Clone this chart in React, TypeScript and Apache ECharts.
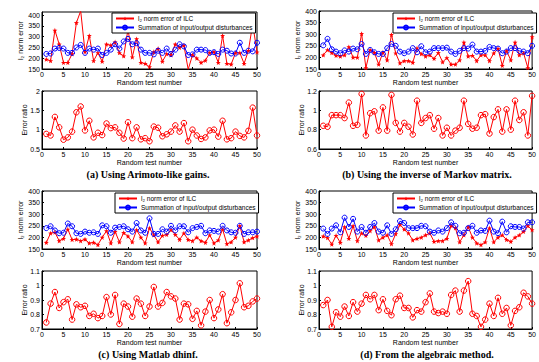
import React, { useEffect, useRef } from "react";
import * as echarts from "echarts";

// Random test numbers 1..50
const TEST_NUMBERS: number[] = Array.from({ length: 50 }, (_, i) => i + 1);
const X_TICKS = [0, 5, 10, 15, 20, 25, 30, 35, 40, 45, 50];

const L_RED = "l₂ norm error of ILC";
const L_BLUE = "Summation of input/output disturbances";
const Y_TOP_NAME = "l₂ norm error";
const Y_BOT_NAME = "Error ratio";
const X_NAME = "Random test number";

// (a) Using Arimoto-like gains
const RED_A = [195, 188, 330, 265, 180, 180, 220, 365, 420, 230, 305, 188, 225, 185, 265, 260, 275, 225, 210, 335, 205, 290, 180, 175, 160, 230, 245, 185, 220, 215, 265, 250, 260, 148, 215, 200, 180, 190, 225, 230, 180, 305, 175, 172, 225, 225, 175, 235, 360, 228];
const BLUE_A = [220, 222, 245, 248, 245, 225, 225, 250, 262, 225, 245, 240, 245, 215, 225, 240, 265, 245, 278, 290, 265, 270, 240, 225, 225, 218, 235, 225, 245, 220, 240, 265, 255, 215, 218, 240, 240, 238, 225, 228, 220, 240, 235, 222, 222, 272, 225, 235, 232, 272];
const RATIO_A = [0.89, 0.85, 1.33, 1.06, 0.74, 0.8, 0.95, 1.45, 1.6, 0.98, 1.23, 0.8, 0.92, 0.86, 1.16, 1.04, 1.06, 0.92, 0.77, 1.19, 0.78, 1.06, 0.75, 0.78, 0.7, 1.08, 1.05, 0.83, 0.88, 0.95, 1.11, 0.95, 1.17, 0.7, 1.0, 0.85, 0.76, 0.8, 0.98, 1.0, 0.82, 1.23, 0.75, 0.78, 0.95, 0.84, 0.8, 0.97, 1.57, 0.85];

// (b) Using the inverse of Markov matrix
const RED_B = [210, 232, 220, 208, 205, 210, 245, 200, 200, 302, 155, 232, 220, 170, 222, 188, 298, 218, 175, 185, 185, 178, 240, 215, 205, 210, 195, 220, 180, 198, 170, 170, 188, 265, 205, 208, 185, 210, 210, 185, 218, 238, 165, 228, 188, 265, 210, 218, 155, 288];
const BLUE_B = [252, 280, 235, 225, 218, 230, 225, 238, 235, 258, 215, 232, 222, 215, 215, 240, 258, 250, 225, 218, 225, 240, 222, 248, 222, 225, 240, 240, 240, 242, 225, 215, 228, 240, 238, 255, 225, 225, 228, 245, 240, 238, 218, 225, 240, 240, 228, 225, 218, 250];
const RATIO_B = [0.84, 0.83, 0.95, 0.95, 0.95, 0.92, 1.08, 0.84, 0.85, 1.17, 0.74, 0.97, 0.99, 0.79, 1.03, 0.79, 1.16, 0.87, 0.78, 0.87, 0.83, 0.75, 1.1, 0.87, 0.92, 0.95, 0.81, 0.92, 0.74, 0.82, 0.74, 0.79, 0.82, 1.1, 0.86, 0.81, 0.82, 0.95, 0.96, 0.76, 0.93, 1.01, 0.78, 1.01, 0.8, 1.1, 0.9, 0.98, 0.74, 1.15];

// (c) Using Matlab dhinf
const RED_C = [178, 218, 222, 185, 195, 235, 190, 192, 185, 192, 175, 178, 168, 200, 228, 175, 225, 180, 220, 205, 180, 232, 200, 175, 240, 210, 180, 208, 212, 232, 212, 190, 218, 190, 185, 200, 185, 178, 210, 175, 188, 235, 172, 180, 200, 250, 180, 188, 198, 205];
const BLUE_C = [240, 248, 230, 218, 220, 260, 248, 218, 215, 225, 220, 222, 215, 252, 248, 220, 242, 245, 248, 235, 225, 262, 230, 220, 282, 215, 215, 235, 225, 250, 230, 248, 248, 222, 240, 245, 250, 218, 230, 228, 225, 250, 230, 222, 220, 250, 215, 222, 222, 225];
const RATIO_C = [0.745, 0.875, 0.955, 0.845, 0.885, 0.905, 0.765, 0.87, 0.85, 0.86, 0.79, 0.805, 0.775, 0.79, 0.92, 0.8, 0.935, 0.735, 0.875, 0.855, 0.785, 0.91, 0.875, 0.79, 0.855, 0.99, 0.855, 0.88, 0.955, 0.925, 0.91, 0.765, 0.875, 0.87, 0.77, 0.825, 0.725, 0.82, 0.9, 0.775, 0.835, 0.94, 0.74, 0.815, 0.9, 1.015, 0.85, 0.86, 0.89, 0.91];

// (d) From the algebraic method
const RED_D = [205, 198, 170, 208, 178, 245, 195, 250, 185, 218, 208, 228, 245, 188, 200, 210, 172, 215, 255, 235, 218, 188, 195, 200, 210, 218, 182, 185, 185, 195, 250, 240, 180, 210, 245, 200, 175, 168, 180, 240, 180, 200, 210, 190, 182, 200, 210, 225, 250, 232];
const BLUE_D = [238, 215, 238, 252, 222, 285, 245, 280, 225, 245, 220, 245, 262, 225, 220, 252, 215, 235, 270, 262, 240, 240, 240, 250, 248, 225, 220, 230, 225, 240, 265, 250, 218, 220, 240, 250, 220, 230, 228, 272, 225, 218, 268, 222, 248, 245, 245, 238, 265, 265];
const RATIO_D = [0.865, 0.9, 0.715, 0.815, 0.785, 0.855, 0.79, 0.885, 0.82, 0.875, 0.935, 0.905, 0.935, 0.83, 0.905, 0.825, 0.795, 0.905, 0.93, 0.845, 0.845, 0.78, 0.83, 0.82, 0.885, 0.945, 0.82, 0.81, 0.82, 0.805, 0.935, 0.965, 0.82, 0.965, 1.03, 0.805, 0.79, 0.715, 0.765, 0.875, 0.79, 0.915, 0.805, 0.845, 0.725, 0.825, 0.85, 0.95, 0.925, 0.875];

const CAPTIONS = [
  "(a) Using Arimoto-like gains.",
  "(b) Using the inverse of Markov matrix.",
  "(c) Using Matlab dhinf.",
  "(d) From the algebraic method.",
];

const STAR =
  "path://M0,-10 L2.4,-3.3 L9.5,-3.1 L3.9,1.3 L5.9,8.1 L0,4.1 L-5.9,8.1 L-3.9,1.3 L-9.5,-3.1 L-2.4,-3.3 Z";

const FONT = "Liberation Sans";

export default function App() {
  const ref = useRef<HTMLDivElement>(null);
  useEffect(() => {
    document.body.style.margin = "0";
    const chart = echarts.init(ref.current!, null, { renderer: "svg" });

    const panels = [
      { left: 42, width: 215, tTop: 12, tH: 57, bTop: 91, bH: 58, red: RED_A, blue: BLUE_A, ratio: RATIO_A, tMax: 415, bMin: 0.5, bMax: 2, bInt: 0.5, lgL: 112, lgT: 13, capX: 148, capY: 174 },
      { left: 319, width: 217, tTop: 11, tH: 58, bTop: 91, bH: 58, red: RED_B, blue: BLUE_B, ratio: RATIO_B, tMax: 400, bMin: 0.6, bMax: 1.2, bInt: 0.2, lgL: 393, lgT: 13, capX: 427, capY: 174 },
      { left: 42, width: 215, tTop: 191, tH: 58, bTop: 271, bH: 58, red: RED_C, blue: BLUE_C, ratio: RATIO_C, tMax: 400, bMin: 0.7, bMax: 1.1, bInt: 0.1, lgL: 115, lgT: 193, capX: 148, capY: 354 },
      { left: 319, width: 217, tTop: 191, tH: 58, bTop: 271, bH: 58, red: RED_D, blue: BLUE_D, ratio: RATIO_D, tMax: 400, bMin: 0.7, bMax: 1.1, bInt: 0.1, lgL: 393, lgT: 193, capX: 427, capY: 354 },
    ];

    const grid: any[] = [];
    const xAxis: any[] = [];
    const yAxis: any[] = [];
    const series: any[] = [];
    const legend: any[] = [];
    const graphic: any[] = [];

    const axisCommon = {
      axisLine: { show: true, lineStyle: { color: "#000", width: 1 } },
      axisTick: { show: true, inside: true, length: 2, lineStyle: { color: "#000" } },
      axisLabel: { color: "#000", fontSize: 7, fontFamily: FONT, margin: 2 },
      splitLine: { show: false },
      nameTextStyle: { color: "#000", fontSize: 7, fontFamily: FONT },
    };

    const xAx = (gi: number) => ({
      ...axisCommon,
      type: "value",
      gridIndex: gi,
      min: 0,
      max: 50,
      interval: 5,
      name: X_NAME,
      nameLocation: "middle",
      nameGap: 9.5,
      nameMoveOverlap: false,
      nameTextStyle: { ...axisCommon.nameTextStyle, verticalAlign: "top", lineHeight: 7 },
      axisLabel: {
        ...axisCommon.axisLabel,
        lineHeight: 7,
        formatter: (v: number) => (X_TICKS.includes(v) ? String(v) : ""),
      },
    });

    const yName = (text: string, x: number, y: number) => ({
      type: "text",
      x,
      y,
      rotation: Math.PI / 2,
      style: {
        text,
        font: `7px "${FONT}"`,
        fill: "#000",
        align: "center",
        verticalAlign: "middle",
      },
    });

    panels.forEach((p, i) => {
      const gt = i * 2;
      const gb = i * 2 + 1;
      grid.push({ left: p.left, top: p.tTop, width: p.width, height: p.tH, show: true, borderColor: "#000", borderWidth: 1, backgroundColor: "#fff" });
      grid.push({ left: p.left, top: p.bTop, width: p.width, height: p.bH, show: true, borderColor: "#000", borderWidth: 1, backgroundColor: "#fff" });
      xAxis.push(xAx(gt));
      xAxis.push(xAx(gb));
      yAxis.push({
        ...axisCommon,
        type: "value",
        gridIndex: gt,
        min: 150,
        max: p.tMax,
        interval: 50,
      });
      yAxis.push({
        ...axisCommon,
        type: "value",
        gridIndex: gb,
        min: p.bMin,
        max: p.bMax,
        interval: p.bInt,
      });
      graphic.push(yName(Y_TOP_NAME, p.left - 22, p.tTop + p.tH / 2));
      graphic.push(yName(Y_BOT_NAME, p.left - 18, p.bTop + p.bH / 2));
      series.push({
        type: "line",
        name: L_RED,
        xAxisIndex: gt,
        yAxisIndex: gt,
        data: p.red.map((v, j) => [TEST_NUMBERS[j], v]),
        symbol: STAR,
        symbolSize: 5,
        lineStyle: { color: "#ff0000", width: 1 },
        itemStyle: { color: "#ff0000" },
        clip: true,
      });
      series.push({
        type: "line",
        name: L_BLUE,
        xAxisIndex: gt,
        yAxisIndex: gt,
        data: p.blue.map((v, j) => [TEST_NUMBERS[j], v]),
        symbol: "circle",
        symbolSize: 5,
        lineStyle: { color: "#0000ff", width: 1 },
        itemStyle: { color: "rgba(0,0,0,0)", borderColor: "#0000ff", borderWidth: 1 },
        clip: true,
      });
      series.push({
        type: "line",
        name: "Error ratio " + i,
        xAxisIndex: gb,
        yAxisIndex: gb,
        data: p.ratio.map((v, j) => [TEST_NUMBERS[j], v]),
        symbol: "circle",
        symbolSize: 5.5,
        lineStyle: { color: "#ff0000", width: 1 },
        itemStyle: { color: "rgba(0,0,0,0)", borderColor: "#ff0000", borderWidth: 1 },
        clip: true,
      });
      legend.push({
        left: p.lgL,
        top: p.lgT,
        orient: "vertical",
        data: [L_RED, L_BLUE],
        itemWidth: 18,
        itemHeight: 5,
        itemGap: 2,
        padding: [2, 3, 2, 3],
        borderColor: "#000",
        borderWidth: 1,
        backgroundColor: "#fff",
        textStyle: { fontSize: 6.5, fontFamily: FONT, color: "#000", padding: [0, 0, 0, -1] },
      });
      graphic.push({
        type: "text",
        x: p.capX,
        y: p.capY,
        style: {
          text: CAPTIONS[i],
          font: 'bold 10px "Liberation Serif"',
          fill: "#000",
          align: "center",
          verticalAlign: "middle",
        },
      });
    });

    chart.setOption({
      animation: false,
      backgroundColor: "#fff",
      grid,
      xAxis,
      yAxis,
      series,
      legend,
      graphic,
    });
    return () => chart.dispose();
  }, []);
  return <div ref={ref} style={{ width: 539, height: 362 }} />;
}
